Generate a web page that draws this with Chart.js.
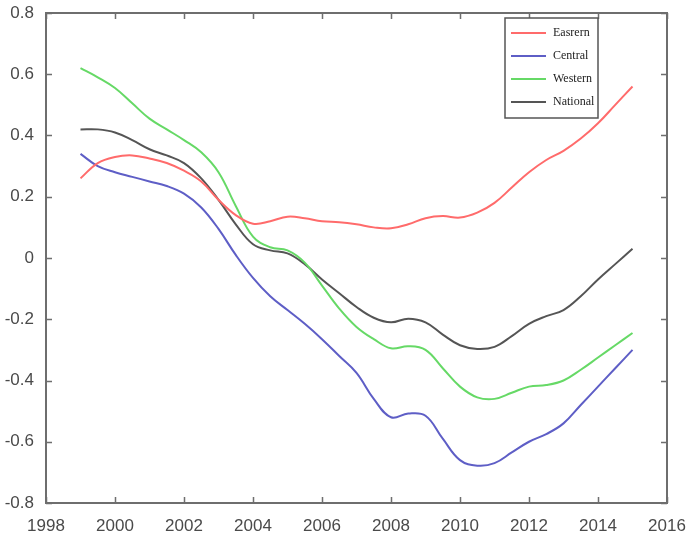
<!DOCTYPE html>
<html>
<head>
<meta charset="utf-8">
<script src="https://cdn.jsdelivr.net/npm/chart.js@4.4.1/dist/chart.umd.min.js"></script>
<style>
  html, body { margin: 0; padding: 0; background: #fff; }
  #wrap { width: 686px; height: 539px; }
</style>
</head>
<body>
<div id="wrap"><canvas id="c" width="686" height="539"></canvas></div>
<script>
// Sampling years (half-year steps)
const years = [1999, 1999.5, 2000, 2000.5, 2001, 2001.5, 2002, 2002.5, 2003, 2003.5,
  2004, 2004.5, 2005, 2005.5, 2006, 2006.5, 2007, 2007.5, 2008, 2008.5,
  2009, 2009.5, 2010, 2010.5, 2011, 2011.5, 2012, 2012.5, 2013, 2013.5,
  2014, 2014.5, 2015];

const eastern = [0.26, 0.31, 0.33, 0.335, 0.325, 0.31, 0.285, 0.25, 0.19, 0.14,
  0.112, 0.12, 0.135, 0.13, 0.12, 0.117, 0.11, 0.10, 0.097, 0.11,
  0.13, 0.137, 0.132, 0.148, 0.18, 0.23, 0.28, 0.32, 0.35, 0.39,
  0.44, 0.50, 0.56];

const central = [0.34, 0.30, 0.28, 0.265, 0.25, 0.235, 0.21, 0.165, 0.095, 0.01,
  -0.065, -0.125, -0.17, -0.215, -0.265, -0.32, -0.375, -0.46, -0.52, -0.508,
  -0.515, -0.59, -0.66, -0.678, -0.67, -0.635, -0.60, -0.575, -0.54, -0.48,
  -0.42, -0.36, -0.30];

const western = [0.62, 0.59, 0.555, 0.505, 0.455, 0.42, 0.385, 0.345, 0.28, 0.17,
  0.07, 0.035, 0.025, -0.015, -0.09, -0.165, -0.225, -0.265, -0.295, -0.288,
  -0.30, -0.36, -0.42, -0.455, -0.46, -0.44, -0.42, -0.415, -0.40, -0.365,
  -0.325, -0.285, -0.245];

const national = [0.42, 0.42, 0.41, 0.385, 0.355, 0.335, 0.31, 0.26, 0.19, 0.11,
  0.045, 0.025, 0.015, -0.02, -0.07, -0.115, -0.16, -0.195, -0.21, -0.198,
  -0.21, -0.25, -0.285, -0.297, -0.29, -0.255, -0.215, -0.19, -0.17, -0.125,
  -0.07, -0.02, 0.03];

const seriesNames = ['Easrern', 'Central', 'Western', 'National'];
const seriesColors = ['#ff6b6b', '#5e5ec6', '#66d966', '#555555'];
const seriesValues = [eastern, central, western, national];

const yTicks = [-0.8, -0.6, -0.4, -0.2, 0, 0.2, 0.4, 0.6, 0.8];
const xTicks = [1998, 2000, 2002, 2004, 2006, 2008, 2010, 2012, 2014, 2016];

const datasets = seriesValues.map((vals, i) => ({
  label: seriesNames[i],
  data: years.map((yr, k) => ({ x: yr, y: vals[k] })),
  borderColor: seriesColors[i],
  borderWidth: 2,
  pointRadius: 0,
  tension: 0.4,
  fill: false
}));

// Box frame with inward ticks on all four sides, plus the legend box
const framePlugin = {
  id: 'frame',
  afterDatasetsDraw(chart) {
    const { ctx, chartArea: a, scales } = chart;
    ctx.save();
    ctx.strokeStyle = '#6e6e6e';
    ctx.lineWidth = 2;
    ctx.strokeRect(a.left, a.top, a.right - a.left, a.bottom - a.top);
    ctx.lineWidth = 1.5;
    const len = 6;
    ctx.beginPath();
    xTicks.forEach(v => {
      const px = Math.round(scales.x.getPixelForValue(v)) + 0.5;
      ctx.moveTo(px, a.bottom); ctx.lineTo(px, a.bottom - len);
      ctx.moveTo(px, a.top); ctx.lineTo(px, a.top + len);
    });
    yTicks.forEach(v => {
      const py = Math.round(scales.y.getPixelForValue(v)) + 0.5;
      ctx.moveTo(a.left, py); ctx.lineTo(a.left + len, py);
      ctx.moveTo(a.right, py); ctx.lineTo(a.right - len, py);
    });
    ctx.stroke();

    const lx = 505, ly = 18, lw = 93, lh = 100;
    ctx.fillStyle = '#ffffff';
    ctx.fillRect(lx, ly, lw, lh);
    ctx.strokeStyle = '#555';
    ctx.lineWidth = 1.5;
    ctx.strokeRect(lx, ly, lw, lh);
    ctx.font = '12px "Liberation Serif", "DejaVu Serif", serif';
    ctx.textBaseline = 'middle';
    ctx.textAlign = 'left';
    chart.data.datasets.forEach((ds, i) => {
      const yy = ly + 15 + i * 23;
      ctx.strokeStyle = ds.borderColor;
      ctx.lineWidth = 2;
      ctx.beginPath();
      ctx.moveTo(lx + 6, yy);
      ctx.lineTo(lx + 41, yy);
      ctx.stroke();
      ctx.fillStyle = '#222';
      ctx.fillText(ds.label, lx + 48, yy);
    });
    ctx.restore();
  }
};

const fmt = v => {
  const r = Math.round(v * 10) / 10;
  return r === 0 ? '0' : String(r);
};

const tickFont = { family: '"Liberation Sans", Arial, sans-serif', size: 17 };

new Chart(document.getElementById('c'), {
  type: 'line',
  data: { datasets },
  options: {
    responsive: false,
    animation: false,
    events: [],
    layout: { padding: { top: 13, right: 19, left: 0, bottom: 0 } },
    plugins: { legend: { display: false }, tooltip: { enabled: false } },
    scales: {
      x: {
        type: 'linear',
        min: 1998, max: 2016,
        afterBuildTicks(s) { s.ticks = xTicks.map(v => ({ value: v })); },
        afterFit(s) { s.height = 36; s.paddingLeft = 0; s.paddingRight = 0; },
        grid: { display: false, drawTicks: false },
        border: { display: false },
        ticks: {
          padding: 13,
          color: '#4a4a4a',
          font: tickFont,
          callback: v => String(v),
          maxRotation: 0
        }
      },
      y: {
        type: 'linear',
        min: -0.8, max: 0.8,
        afterBuildTicks(s) { s.ticks = yTicks.map(v => ({ value: v })); },
        afterFit(s) { s.width = 46; s.paddingTop = 0; s.paddingBottom = 0; },
        grid: { display: false, drawTicks: false },
        border: { display: false },
        ticks: {
          padding: 12,
          color: '#4a4a4a',
          font: tickFont,
          callback: v => fmt(v)
        }
      }
    }
  },
  plugins: [framePlugin]
});
</script>
</body>
</html>
